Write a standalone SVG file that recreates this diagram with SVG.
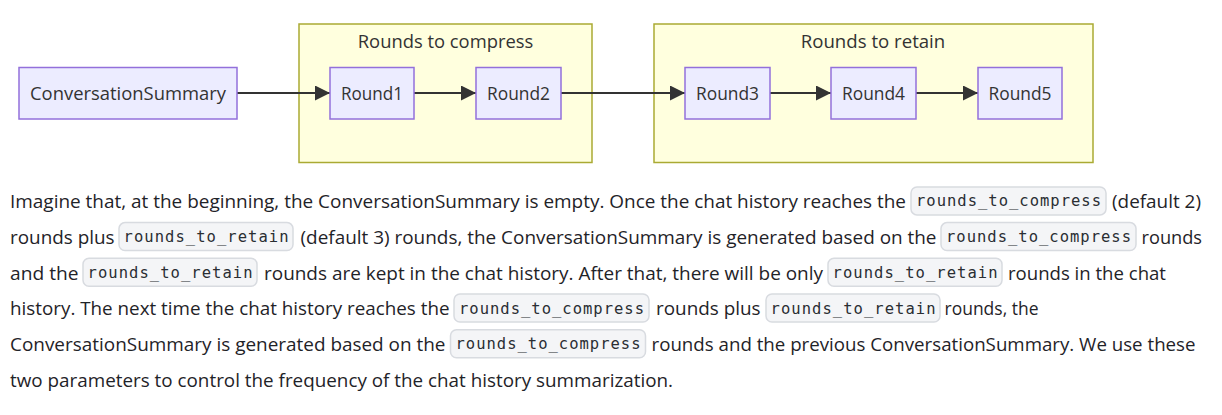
<svg xmlns="http://www.w3.org/2000/svg" width="1222" height="415" viewBox="0 0 1222 415">
<style>
.cluster{fill:#FFFFDE;stroke:#AAAA33;stroke-width:1.5}
.node{fill:#ECECFF;stroke:#9370DB;stroke-width:1.5}
.nt{font-family:"Open Sans","Noto Sans",sans-serif;font-size:18px;fill:#333;text-anchor:middle}
.edge{stroke:#333;stroke-width:2.2;fill:none}
.body{font-family:"Open Sans","Noto Sans",sans-serif;font-size:18.8px;fill:#1f2328}
.cb{fill:#f4f5f7;stroke:#d8dbe0;stroke-width:1.5}
.ct{font-family:"DejaVu Sans Mono","Liberation Mono",monospace;font-size:15.5px;fill:#2a2e33;text-anchor:middle}
</style>
<defs>
<marker id="arrow" viewBox="0 0 15 15" refX="15" refY="7.5" markerWidth="15" markerHeight="15" markerUnits="userSpaceOnUse" orient="auto">
<path d="M0,0 L15,7.5 L0,15 Z" fill="#333"/>
</marker>
</defs>
<rect width="1222" height="415" fill="#ffffff"/>
<g id="cluster-compress">
<rect class="cluster" x="299" y="24" width="293" height="138.5"/>
<text class="nt" x="445.5" y="47.5" textLength="175.5" lengthAdjust="spacingAndGlyphs">Rounds to compress</text>
</g>
<g id="cluster-retain">
<rect class="cluster" x="654" y="24" width="439" height="138.5"/>
<text class="nt" x="873" y="47.5" textLength="144.5" lengthAdjust="spacingAndGlyphs">Rounds to retain</text>
</g>
<g id="connectors">
<line class="edge" x1="237" y1="93" x2="330" y2="93" marker-end="url(#arrow)"/>
<line class="edge" x1="414" y1="93" x2="476" y2="93" marker-end="url(#arrow)"/>
<line class="edge" x1="561" y1="93" x2="685" y2="93" marker-end="url(#arrow)"/>
<line class="edge" x1="770" y1="93" x2="831" y2="93" marker-end="url(#arrow)"/>
<line class="edge" x1="916" y1="93" x2="978" y2="93" marker-end="url(#arrow)"/>
</g>
<g id="ConversationSummary">
<rect class="node" x="19" y="67.5" width="218" height="51.5"/>
<text class="nt" x="128" y="100" textLength="196" lengthAdjust="spacingAndGlyphs">ConversationSummary</text>
</g>
<g id="Round1">
<rect class="node" x="330" y="67.5" width="84" height="51.5"/>
<text class="nt" x="372" y="100" textLength="62" lengthAdjust="spacingAndGlyphs">Round1</text>
</g>
<g id="Round2">
<rect class="node" x="476" y="67.5" width="85" height="51.5"/>
<text class="nt" x="518.5" y="100" textLength="63" lengthAdjust="spacingAndGlyphs">Round2</text>
</g>
<g id="Round3">
<rect class="node" x="685" y="67.5" width="85" height="51.5"/>
<text class="nt" x="727.5" y="100" textLength="63" lengthAdjust="spacingAndGlyphs">Round3</text>
</g>
<g id="Round4">
<rect class="node" x="831" y="67.5" width="85" height="51.5"/>
<text class="nt" x="873.5" y="100" textLength="63" lengthAdjust="spacingAndGlyphs">Round4</text>
</g>
<g id="Round5">
<rect class="node" x="978" y="67.5" width="84" height="51.5"/>
<text class="nt" x="1020" y="100" textLength="63" lengthAdjust="spacingAndGlyphs">Round5</text>
</g>
<g id="paragraph">
<rect class="cb" x="911" y="186.9" width="195" height="28" rx="6"/>
<text class="ct" x="1008.5" y="206.4" textLength="185" lengthAdjust="spacing">rounds_to_compress</text>
<text class="body" x="10" y="208.3" textLength="896" lengthAdjust="spacingAndGlyphs">Imagine that, at the beginning, the ConversationSummary is empty. Once the chat history reaches the</text>
<text class="body" x="1112" y="208.3" textLength="89" lengthAdjust="spacingAndGlyphs">(default 2)</text>

<rect class="cb" x="119" y="222.6" width="174" height="28" rx="6"/>
<text class="ct" x="206" y="242.1" textLength="165" lengthAdjust="spacing">rounds_to_retain</text>
<rect class="cb" x="941" y="222.6" width="195" height="28" rx="6"/>
<text class="ct" x="1038.5" y="242.1" textLength="185" lengthAdjust="spacing">rounds_to_compress</text>
<text class="body" x="10" y="244" textLength="104.5" lengthAdjust="spacingAndGlyphs">rounds plus</text>
<text class="body" x="300.5" y="244" textLength="636" lengthAdjust="spacingAndGlyphs">(default 3) rounds, the ConversationSummary is generated based on the</text>
<text class="body" x="1141.5" y="244" textLength="60.5" lengthAdjust="spacingAndGlyphs">rounds</text>

<rect class="cb" x="83" y="258.3" width="174" height="28" rx="6"/>
<text class="ct" x="170" y="277.8" textLength="165" lengthAdjust="spacing">rounds_to_retain</text>
<rect class="cb" x="828" y="258.3" width="174" height="28" rx="6"/>
<text class="ct" x="915" y="277.8" textLength="165" lengthAdjust="spacing">rounds_to_retain</text>
<text class="body" x="10" y="279.7" textLength="68.5" lengthAdjust="spacingAndGlyphs">and the</text>
<text class="body" x="264" y="279.7" textLength="559" lengthAdjust="spacingAndGlyphs">rounds are kept in the chat history. After that, there will be only</text>
<text class="body" x="1008" y="279.7" textLength="158" lengthAdjust="spacingAndGlyphs">rounds in the chat</text>

<rect class="cb" x="454" y="294" width="195" height="28" rx="6"/>
<text class="ct" x="551.5" y="313.5" textLength="185" lengthAdjust="spacing">rounds_to_compress</text>
<rect class="cb" x="766" y="294" width="174" height="28" rx="6"/>
<text class="ct" x="853" y="313.5" textLength="165" lengthAdjust="spacing">rounds_to_retain</text>
<text class="body" x="10" y="315.4" textLength="439.5" lengthAdjust="spacingAndGlyphs">history. The next time the chat history reaches the</text>
<text class="body" x="656" y="315.4" textLength="104.5" lengthAdjust="spacingAndGlyphs">rounds plus</text>
<text class="body" x="944.5" y="315.4" textLength="94" lengthAdjust="spacingAndGlyphs">rounds, the</text>

<rect class="cb" x="450.5" y="329.7" width="195" height="28" rx="6"/>
<text class="ct" x="548" y="349.2" textLength="185" lengthAdjust="spacing">rounds_to_compress</text>
<text class="body" x="10" y="351.1" textLength="435.5" lengthAdjust="spacingAndGlyphs">ConversationSummary is generated based on the</text>
<text class="body" x="651.5" y="351.1" textLength="544" lengthAdjust="spacingAndGlyphs">rounds and the previous ConversationSummary. We use these</text>

<text class="body" x="10" y="386.8" textLength="663" lengthAdjust="spacingAndGlyphs">two parameters to control the frequency of the chat history summarization.</text>
</g>
</svg>
